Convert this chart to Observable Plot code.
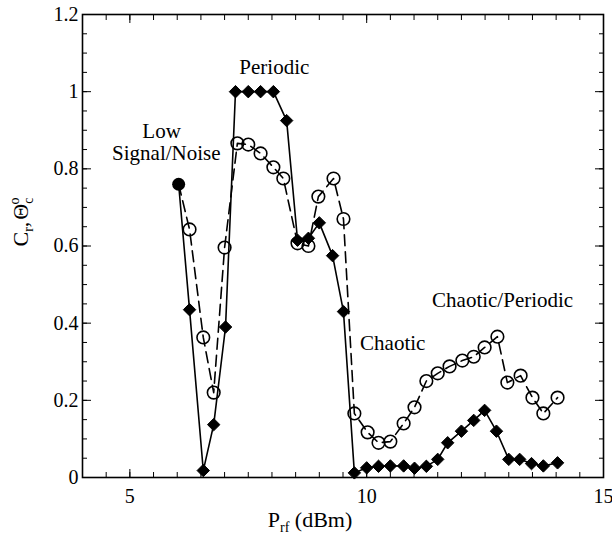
<!DOCTYPE html>
<html><head><meta charset="utf-8">
<script src="https://cdn.jsdelivr.net/npm/d3@7"></script>
<script src="https://cdn.jsdelivr.net/npm/@observablehq/plot@0.6"></script>
<style>
body{margin:0;background:#fff}
svg, svg text { font-family: 'Liberation Serif', 'Times New Roman', serif !important; }
</style>
</head><body><div id="chart"></div>
<script>
// C_r series (filled diamonds, solid line)
const diamondX = [6.03, 6.26, 6.55, 6.77, 7.02, 7.23, 7.5, 7.76, 8.03, 8.31, 8.54, 8.77, 9.0, 9.28, 9.51, 9.74, 10.0, 10.25, 10.5, 10.78, 11.01, 11.26, 11.5, 11.71, 12.0, 12.26, 12.49, 12.74, 13.0, 13.23, 13.48, 13.73, 14.03];
const diamondY = [0.76, 0.435, 0.018, 0.137, 0.39, 1.0, 1.0, 1.0, 1.0, 0.925, 0.615, 0.62, 0.66, 0.575, 0.43, 0.012, 0.025, 0.029, 0.03, 0.03, 0.024, 0.029, 0.047, 0.09, 0.12, 0.148, 0.174, 0.12, 0.047, 0.047, 0.036, 0.03, 0.038];
// Theta_c series (open circles, dashed line)
const circleX = [6.03, 6.26, 6.55, 6.77, 7.0, 7.27, 7.5, 7.76, 8.03, 8.24, 8.54, 8.77, 8.98, 9.3, 9.51, 9.74, 10.02, 10.25, 10.5, 10.78, 11.01, 11.26, 11.5, 11.75, 12.02, 12.26, 12.49, 12.76, 12.97, 13.25, 13.5, 13.73, 14.03];
const circleY = [0.76, 0.643, 0.363, 0.22, 0.596, 0.866, 0.863, 0.84, 0.804, 0.775, 0.607, 0.60, 0.728, 0.775, 0.67, 0.166, 0.117, 0.09, 0.093, 0.14, 0.182, 0.25, 0.27, 0.288, 0.303, 0.313, 0.337, 0.365, 0.246, 0.264, 0.207, 0.166, 0.207];
// shared starting point
const startX = [6.03];
const startY = [0.76];
// tick labels
const xTickLabels = [5, 10, 15];
const yTickLabels = [0, 0.2, 0.4, 0.6, 0.8, 1, 1.2];
// annotations
const annText = ["Low", "Signal/Noise", "Periodic", "Chaotic", "Chaotic/Periodic"];
const annX = [5.67, 5.77, 8.05, 10.55, 12.87];
const annY = [0.897, 0.84, 1.063, 0.347, 0.459];

const diamonds = diamondX.map((x, i) => ({x, y: diamondY[i]}));
const circles = circleX.map((x, i) => ({x, y: circleY[i]}));
const start = startX.map((x, i) => ({x, y: startY[i]}));
const ann = annText.map((t, i) => ({t, x: annX[i], y: annY[i]}));

const xMinor = d3.range(4, 15.001, 0.5);
const yMinor = d3.range(0, 1.2001, 0.05);
const blank = () => "";
const font = "'Liberation Serif', 'Times New Roman', serif";

const svg = Plot.plot({
  width: 612, height: 541,
  marginLeft: 82, marginTop: 14, marginRight: 9, marginBottom: 64,
  style: {fontFamily: font, fontSize: "20px", background: "white", color: "black"},
  x: {domain: [4, 15]},
  y: {domain: [0, 1.2]},
  marks: [
    Plot.axisX(xMinor, {anchor: "bottom", tickSize: -5, tickFormat: blank, label: null}),
    Plot.axisX(xMinor, {anchor: "top", tickSize: -5, tickFormat: blank, label: null}),
    Plot.axisX(xTickLabels, {anchor: "bottom", tickSize: -8, tickFormat: blank, label: null}),
    Plot.axisX(xTickLabels, {anchor: "top", tickSize: -8, tickFormat: blank, label: null}),
    Plot.axisY(yMinor, {anchor: "left", tickSize: -5, tickFormat: blank, label: null}),
    Plot.axisY(yMinor, {anchor: "right", tickSize: -5, tickFormat: blank, label: null}),
    Plot.axisY(yTickLabels, {anchor: "left", tickSize: -9, tickFormat: blank, label: null}),
    Plot.axisY(yTickLabels, {anchor: "right", tickSize: -9, tickFormat: blank, label: null}),
    Plot.axisX(xTickLabels, {anchor: "bottom", tickSize: 0, tickPadding: 11, fontSize: 20, label: null}),
    Plot.axisY(yTickLabels, {anchor: "left", tickSize: 0, tickPadding: 4, fontSize: 20, label: null, tickFormat: d => String(d)}),
    Plot.line(circles, {x: "x", y: "y", stroke: "black", strokeWidth: 1.6, strokeDasharray: "11,6"}),
    Plot.line(diamonds, {x: "x", y: "y", stroke: "black", strokeWidth: 1.6}),
    Plot.dot(circles.slice(1), {x: "x", y: "y", r: 6.3, stroke: "black", strokeWidth: 1.6, fill: "none"}),
    Plot.dot(diamonds.slice(1), {x: "x", y: "y", r: 5.6, symbol: "diamond2", fill: "black", stroke: "black", strokeWidth: 1}),
    Plot.dot(start, {x: "x", y: "y", r: 6.5, fill: "black"}),
    Plot.text(ann, {x: "x", y: "y", text: "t", fontSize: 21, fill: "black"}),
    Plot.frame({stroke: "black", strokeWidth: 1.6})
  ]
});

const s = d3.select(svg);
// y-axis label
const yl = s.append("text")
  .attr("transform", "translate(28,222) rotate(-90)")
  .attr("text-anchor", "middle")
  .attr("font-size", 22)
  .attr("fill", "#000");
yl.append("tspan").text("C");
yl.append("tspan").attr("dy", 5).attr("font-size", 14).text("r");
yl.append("tspan").attr("dy", -5).text(",");
yl.append("tspan").attr("dx", 2).text("Θ");
yl.append("tspan").attr("dy", 5).attr("font-size", 14).text("c");
yl.append("tspan").attr("dx", -7).attr("dy", -14).attr("font-size", 14).text("o");

// x-axis label
const xl = s.append("text")
  .attr("x", 310).attr("y", 527)
  .attr("text-anchor", "middle")
  .attr("font-size", 22)
  .attr("fill", "#000");
xl.append("tspan").text("P");
xl.append("tspan").attr("dy", 5).attr("font-size", 14).text("rf");
xl.append("tspan").attr("dy", -5).text(" (dBm)");

document.getElementById("chart").appendChild(svg);
</script>
</body></html>
